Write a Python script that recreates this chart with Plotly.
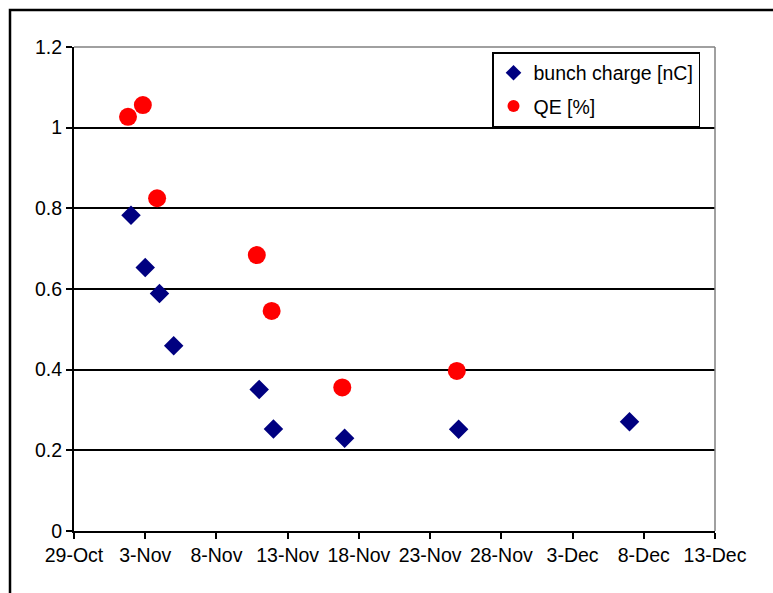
import plotly.graph_objects as go

# Bunch charge measurements
charge_dates = ["2007-11-02", "2007-11-03", "2007-11-04", "2007-11-05", "2007-11-11",
                "2007-11-12", "2007-11-17", "2007-11-25", "2007-12-07"]
charge_nc = [0.783, 0.653, 0.589, 0.459, 0.351, 0.253, 0.230, 0.252, 0.271]

# Quantum efficiency measurements
qe_dates = ["2007-11-01 19:00", "2007-11-02 20:00", "2007-11-03 20:00", "2007-11-10 20:00",
            "2007-11-11 21:00", "2007-11-16 20:00", "2007-11-24 21:00"]
qe_pct = [1.027, 1.056, 0.825, 0.684, 0.5455, 0.356, 0.397]

x_start, x_end = "2007-10-29", "2007-12-13"
y_ticks = [0, 0.2, 0.4, 0.6, 0.8, 1.0, 1.2]

FONT = "Liberation Sans, Arial, sans-serif"
W, H = 773, 593
ML, MR, MT, MB = 74, 58, 47, 62
PW, PH = W - ML - MR, H - MT - MB

fig = go.Figure()
fig.add_trace(go.Scatter(
    x=charge_dates, y=charge_nc, mode="markers", name="bunch charge [nC]",
    legendgroup="a",
    marker=dict(symbol="diamond", size=15, color="#000080", line=dict(width=0)),
))
fig.add_trace(go.Scatter(
    x=qe_dates, y=qe_pct, mode="markers", name="QE [%]",
    legendgroup="b",
    marker=dict(symbol="circle", size=18, color="#FF0000", line=dict(width=0)),
))


def px_x(p):
    return (p - ML) / PW


def px_y(p):
    return (H - MB - p) / PH


shapes = [
    # plot-area frame on the top and right
    dict(type="line", xref="paper", yref="paper", x0=0, x1=1, y0=1, y1=1,
         line=dict(color="#808080", width=1.5), layer="above"),
    dict(type="line", xref="paper", yref="paper", x0=1, x1=1, y0=0, y1=1,
         line=dict(color="#808080", width=1.5), layer="above"),
    # chart-area border
    dict(type="path", xref="paper", yref="paper",
         path=f"M {px_x(10)},{px_y(H + 20)} L {px_x(10)},{px_y(10)} L {px_x(W + 20)},{px_y(10)}",
         line=dict(color="black", width=2.5)),
]

fig.update_layout(
    width=W, height=H,
    margin=dict(l=ML, r=MR, t=MT, b=MB, pad=0),
    paper_bgcolor="white", plot_bgcolor="white",
    font=dict(family=FONT, size=19.5, color="black"),
    showlegend=True,
    legend=dict(
        x=px_x(492), y=px_y(52), xanchor="left", yanchor="top",
        bordercolor="black", borderwidth=1.5, bgcolor="white",
        font=dict(family=FONT, size=19.5, color="black"),
        itemsizing="constant", itemwidth=30, tracegroupgap=5,
        traceorder="grouped",
    ),
    shapes=shapes,
)

fig.update_xaxes(
    type="date", range=[x_start, x_end],
    tick0=x_start, dtick=5 * 86400000, tickformat="%-d-%b",
    showgrid=False, zeroline=False,
    showline=True, linecolor="black", linewidth=2,
    ticks="outside", ticklen=6, tickwidth=2, tickcolor="black",
    tickfont=dict(family=FONT, size=19.5, color="black"),
)
fig.update_yaxes(
    range=[0, 1.2], tickvals=y_ticks,
    showgrid=True, gridcolor="black", gridwidth=1.5, zeroline=False,
    showline=True, linecolor="black", linewidth=2,
    ticks="outside", ticklen=6, tickwidth=2, tickcolor="black",
    tickfont=dict(family=FONT, size=19.5, color="black"),
)

fig.write_html("out.html")
